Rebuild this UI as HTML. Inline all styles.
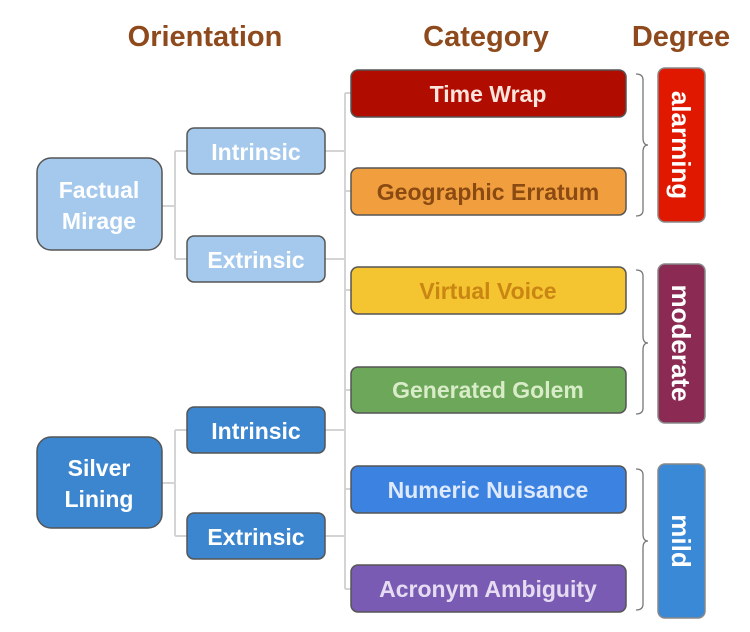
<!DOCTYPE html>
<html><head><style>
body{margin:0;background:#fff;}
svg{display:block;font-family:"Liberation Sans",sans-serif;font-weight:bold;}
</style></head><body>
<svg width="750" height="632" viewBox="0 0 750 632" xmlns="http://www.w3.org/2000/svg">
<g fill="#8e4a1c" font-size="29" text-anchor="middle">
<text x="205" y="46">Orientation</text>
<text x="486" y="46">Category</text>
<text x="681" y="46">Degree</text>
</g>
<g stroke="#d4d4d4" stroke-width="2" fill="none">
<path d="M162 206 H175 M175 151 V259 M175 151 H187 M175 259 H187"/>
<path d="M162 483 H175 M175 430 V536 M175 430 H187 M175 536 H187"/>
<path d="M345 93 V589 M345 93 H351 M345 191 H351 M345 290 H351 M345 390 H351 M345 489 H351 M345 589 H351"/>
<path d="M325 151 H345 M325 259 H345 M325 430 H345 M325 536 H345"/>
</g>
<g stroke="#555" stroke-width="1.5">
<rect x="37" y="158" width="125" height="92" rx="14" fill="#a5c9ec"/>
<rect x="37" y="437" width="125" height="91" rx="14" fill="#3b86cf"/>
<rect x="187" y="128" width="138" height="46" rx="7" fill="#a5c9ec"/>
<rect x="187" y="236" width="138" height="46" rx="7" fill="#a5c9ec"/>
<rect x="187" y="407" width="138" height="46" rx="7" fill="#3b86cf"/>
<rect x="187" y="513" width="138" height="46" rx="7" fill="#3b86cf"/>
<rect x="351" y="70" width="275" height="47" rx="7" fill="#b00d00"/>
<rect x="351" y="168" width="275" height="47" rx="7" fill="#f19f3e"/>
<rect x="351" y="267" width="275" height="47" rx="7" fill="#f5c431"/>
<rect x="351" y="367" width="275" height="46" rx="7" fill="#6ca75a"/>
<rect x="351" y="466" width="275" height="47" rx="7" fill="#3c82e0"/>
<rect x="351" y="565" width="275" height="47" rx="7" fill="#7a5bb3"/>
<rect x="658" y="68" width="47" height="154" rx="7" fill="#e01800" stroke="#888"/>
<rect x="658" y="264" width="47" height="159" rx="7" fill="#8b2a52" stroke="#888"/>
<rect x="658" y="464" width="47" height="154" rx="7" fill="#3a89d7" stroke="#888"/>
</g>
<g stroke="#777" stroke-width="1.3" fill="none">
<path d="M636 74 Q643 74 643 80 V138 Q643 145 648 145 Q643 145 643 152 V210 Q643 216 636 216"/>
<path d="M636 270 Q643 270 643 276 V336 Q643 343 648 343 Q643 343 643 350 V408 Q643 414 636 414"/>
<path d="M636 469 Q643 469 643 475 V534 Q643 541 648 541 Q643 541 643 548 V604 Q643 610 636 610"/>
</g>
<g font-size="23" text-anchor="middle" fill="#fff">
<text x="99" y="198">Factual</text>
<text x="99" y="229">Mirage</text>
<text x="99" y="476">Silver</text>
<text x="99" y="507">Lining</text>
<text x="256" y="160">Intrinsic</text>
<text x="256" y="268">Extrinsic</text>
<text x="256" y="439">Intrinsic</text>
<text x="256" y="545">Extrinsic</text>
<text x="488" y="102" fill="#fde4dc">Time Wrap</text>
<text x="488" y="200" fill="#8a4a12">Geographic Erratum</text>
<text x="488" y="299" fill="#c98612">Virtual Voice</text>
<text x="488" y="398" fill="#d9ecc8">Generated Golem</text>
<text x="488" y="498" fill="#dde9ff">Numeric Nuisance</text>
<text x="488" y="597" fill="#e6dcf2">Acronym Ambiguity</text>
</g>
<g font-size="26" fill="#fff" text-anchor="middle">
<text transform="translate(672 145) rotate(90)">alarming</text>
<text transform="translate(672 343) rotate(90)">moderate</text>
<text transform="translate(672 541) rotate(90)">mild</text>
</g>
</svg>
</body></html>
